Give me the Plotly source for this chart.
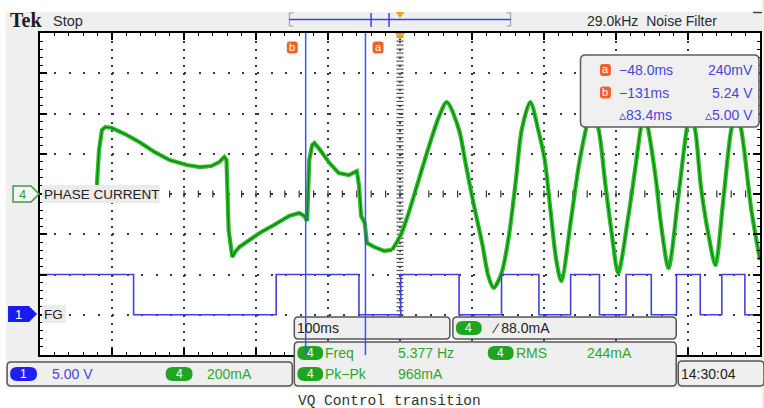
import plotly.graph_objects as go
import numpy as np

# ---------------- data ----------------
# CH4 phase current, first part (start-up / sensor-less part), time in ms, current in mA
seg1_t_ms = [-421, -418, -414, -409, -400, -382, -362, -341, -320, -296,
             -278, -262, -251, -244, -241, -238, -233, -229, -223, -209,
             -195, -175, -154, -140, -133, -129, -126, -122, -119, -112,
             -98, -85, -71, -60, -57, -54, -49, -46, -36, -22, -11]
seg1_ma = [45, 219, 318, 333, 328, 298, 258, 209, 169, 144,
           134, 139, 159, 184, 169, -179, -313, -288, -263, -229,
           -194, -154, -109, -94, -109, -134, 169, 243, 253, 224,
           154, 104, 94, 114, 45, -109, -144, -243, -263, -283, -278]
# CH4 phase current, sinusoidal part after the transition
osc_t_ms = [-11, 1, 12, 26, 40, 54, 65, 82, 91, 102,
            114, 123, 130, 141, 151, 161, 169, 181, 192, 201,
            209, 217, 224, 238, 248, 258, 266, 276, 285, 294,
            303, 317, 327, 334, 339, 345, 355, 363, 373, 386,
            398, 403, 410, 418, 428, 438, 449, 460, 467, 474, 488, 500]
osc_ma = [-278, -204, -94, 70, 234, 383, 457, 318, 154, -45,
          -243, -412, -467, -393, -214, 70, 318, 457, 318, 169,
          -80, -328, -432, -114, 134, 318, 427, 318, 55, -194,
          -393, -114, 134, 318, 417, 318, 84, -164, -368, -30,
          318, 407, 318, 35, -194, -353, -30, 318, 402, 318, -80, -328]
# CH1 FG signal (volts), step-after ("hv") points
fg_t_ms = [-500, -370, -172, -57, 1, 82, 141, 193, 237, 277, 314, 349, 384, 417, 447, 479, 500]
fg_v = [5, 0, 5, 0, 5, 0, 5, 0, 5, 0, 5, 0, 5, 0, 5, 0, 0]
# cursors (ms)
cursor_a_ms = -48.0
cursor_b_ms = -131.0
# readouts
cursor_rows = [("a", "\u221248.0ms", "240mV"), ("b", "\u2212131ms", "5.24 V"), ("", "\u25b583.4ms", "\u25b55.00 V")]

# ---------------- geometry helpers ----------------
W, H = 764, 408
L, R, T, B = 40, 762, 33, 355
UI = "Liberation Sans, Arial, sans-serif"
GREEN_T = "#2aa82a"
BLUE_T = "#4646dc"
ORANGE = "#f0602a"


def px(x):
    return (x - L) / (R - L)


def py(y):
    return (B - y) / (B - T)


def P(x, y):
    return f"{px(x):.5f},{py(y):.5f}"


shapes, anns = [], []
NONE = "rgba(0,0,0,0)"


def rect(x0, y0, x1, y1, fill, line=None, lw=0):
    shapes.append(dict(type="rect", xref="paper", yref="paper", x0=px(x0), x1=px(x1),
                       y0=py(y1), y1=py(y0), fillcolor=fill,
                       line=dict(color=line or NONE, width=lw), layer="above"))


def poly(pts, fill=None, line=None, lw=1.0, closed=True):
    d = "M" + " L".join(P(x, y) for x, y in pts) + (" Z" if closed else "")
    shapes.append(dict(type="path", xref="paper", yref="paper", path=d,
                       fillcolor=fill or NONE, line=dict(color=line or NONE, width=lw), layer="above"))


def rrect(x0, y0, x1, y1, r, fill, line=None, lw=1.5):
    d = (f"M{P(x0 + r, y0)} L{P(x1 - r, y0)} Q{P(x1, y0)} {P(x1, y0 + r)} L{P(x1, y1 - r)} "
         f"Q{P(x1, y1)} {P(x1 - r, y1)} L{P(x0 + r, y1)} Q{P(x0, y1)} {P(x0, y1 - r)} "
         f"L{P(x0, y0 + r)} Q{P(x0, y0)} {P(x0 + r, y0)} Z")
    shapes.append(dict(type="path", xref="paper", yref="paper", path=d, fillcolor=fill,
                       line=dict(color=line or NONE, width=lw if line else 0), layer="above"))


def seg(x0, y0, x1, y1, color, lw=1.5):
    shapes.append(dict(type="line", xref="paper", yref="paper", x0=px(x0), y0=py(y0),
                       x1=px(x1), y1=py(y1), line=dict(color=color, width=lw), layer="above"))


def txt(s, x, y, color, size=13.5, anchor="left", family=UI):
    anns.append(dict(text=s, x=px(x), y=py(y), xref="paper", yref="paper", xanchor=anchor,
                     yanchor="middle", showarrow=False, borderpad=0,
                     font=dict(family=family, size=size, color=color)))


def pill(x0, x1, yc, h, fill, label):
    rrect(x0, yc - h / 2, x1, yc + h / 2, h / 2, fill)
    txt(label, (x0 + x1) / 2, yc, "white", size=12, anchor="center")


def icon(xc, yc, letter):
    rrect(xc - 5.5, yc - 6, xc + 5.5, yc + 6, 3, ORANGE)
    txt(letter, xc, yc - 0.5, "white", size=11, anchor="center")


# ---------------- frame / background ----------------
rect(0, 0, W, 12, "white")
rect(0, 0, 6, H, "white")
rect(0, 388, W, H, "white")

# top bar
txt("<b>Tek</b>", 9, 20, "#1c1c1c", size=20, family="Liberation Serif, DejaVu Serif, serif")
txt("Stop", 52, 21, "#2a2a2a", size=14.5)
txt("29.0kHz  Noise Filter", 588, 21, "#2a2a2a", size=14)
seg(755, 12.5, 764, 12.5, "#444", 1.5)
# record view bar
poly([(294, 13), (290, 13), (290, 26), (294, 26)], line="#9a9a9a", lw=1, closed=False)
poly([(508, 13), (512, 13), (512, 26), (508, 26)], line="#9a9a9a", lw=1, closed=False)
seg(290, 19.5, 512, 19.5, "#3d3dff", 1.5)
seg(372, 13, 372, 27, "#3d3dff", 1.5)
seg(390, 13, 390, 27, "#3d3dff", 1.5)
poly([(396.5, 12), (405.5, 12), (401, 18)], fill="#eda22a")
# trigger position marker on graticule
poly([(396, 33), (406, 33), (401, 40)], fill="#eda22a")

# cursor labels on graticule
icon(293, 47.5, "b")
icon(379, 47.5, "a")

# channel markers left
poly([(13, 186), (31, 186), (39, 194), (31, 202), (13, 202)], fill="#f6f6f6", line="#3c9c3c", lw=1.5)
txt("4", 22, 194, "#3c9c3c", size=13, anchor="center")
rect(42, 185, 160, 203, "#ebebeb")
txt("PHASE CURRENT", 43, 194, "#222", size=13.5)
poly([(8, 306), (29, 306), (37, 314), (29, 322), (8, 322)], fill="#1a1aee")
txt("1", 18, 314, "white", size=13, anchor="center")
rect(42, 305, 66, 323, "#ebebeb")
txt("FG", 43, 314, "#222", size=13.5)

# cursor readout box
rrect(582, 55, 761, 127, 5, "#f0f0f0", "#5c5c5c", 1.5)
for i, (ic, tv, vv) in enumerate(cursor_rows):
    yy = 70 + i * 22.5
    if ic:
        icon(607, yy, ic)
    txt(tv, 620, yy, BLUE_T, size=14)
    txt(vv, 756, yy, BLUE_T, size=14, anchor="right")

# bottom boxes
BOXF, BOXL = "#efefef", "#555"
rrect(7, 362, 293, 386, 4, BOXF, BOXL)
pill(10, 37, 374, 14, "#1f1ff5", "1")
txt("5.00 V", 51, 374, BLUE_T, size=14)
pill(166, 193, 374, 14, "#1fa51f", "4")
txt("200mA", 206, 374, GREEN_T, size=14)

rrect(295, 317, 451, 339, 4, BOXF, BOXL)
txt("100ms", 297, 328, "#222", size=14)
rrect(454, 317, 678, 339, 4, BOXF, BOXL)
pill(457, 483, 328, 14, "#1fa51f", "4")
txt("\u2215 88.0mA", 492, 328, "#222", size=14)

rrect(295, 342, 678, 386, 4, BOXF, BOXL)
pill(298, 324, 353, 14, "#1fa51f", "4")
txt("Freq", 325, 353, GREEN_T, size=14)
txt("5.377 Hz", 398, 353, GREEN_T, size=14)
pill(489, 515, 353, 14, "#1fa51f", "4")
txt("RMS", 516, 353, GREEN_T, size=14)
txt("244mA", 588, 353, GREEN_T, size=14)
pill(298, 324, 374, 14, "#1fa51f", "4")
txt("Pk\u2212Pk", 325, 374, GREEN_T, size=14)
txt("968mA", 398, 374, GREEN_T, size=14)

rrect(680, 361, 766, 386, 4, BOXF, BOXL)
txt("14:30:04", 682, 374, "#222", size=14)

# caption
txt("VQ Control transition", 390, 401, "#333", size=14.5, anchor="center",
    family="Liberation Mono, DejaVu Sans Mono, monospace")

# cursor lines (data coordinates on x)
for cx in (cursor_b_ms, cursor_a_ms):
    shapes.append(dict(type="line", xref="x", yref="paper", x0=cx, x1=cx, y0=0, y1=1,
                       line=dict(color="#4b4bff", width=1.5), layer="above"))

# ---------------- figure ----------------
fig = go.Figure()
# centre graticule tick marks
fig.add_trace(go.Scatter(x=np.arange(-480, 481, 20), y=np.zeros(49), mode="markers",
                         marker=dict(symbol="line-ns", size=5, line=dict(color="#333", width=1.2)),
                         hoverinfo="skip"))
fig.add_trace(go.Scatter(x=np.zeros(79), y=np.arange(-780, 781, 20), mode="markers",
                         marker=dict(symbol="line-ew", size=5, line=dict(color="#555", width=1.2)),
                         hoverinfo="skip"))
# FG channel
fig.add_trace(go.Scatter(x=fg_t_ms, y=fg_v, yaxis="y2", mode="lines", line_shape="hv",
                         line=dict(color="#4141e0", width=1.6), hoverinfo="skip"))
# phase current
for tt, yy, shape in ((seg1_t_ms, seg1_ma, "linear"), (osc_t_ms, osc_ma, "spline")):
    fig.add_trace(go.Scatter(x=tt, y=yy, mode="lines", line=dict(color="#27c027", width=4.2, shape=shape,
                                                                  smoothing=0.8), hoverinfo="skip"))
    fig.add_trace(go.Scatter(x=tt, y=yy, mode="lines", line=dict(color="#1d6e1d", width=1.1, shape=shape,
                                                                  smoothing=0.8), hoverinfo="skip"))

axis_common = dict(showline=True, linecolor="black", linewidth=2, mirror="ticks", ticks="inside",
                   tickcolor="black", tickwidth=1.5, ticklen=7, showticklabels=False,
                   zeroline=False, showgrid=True, gridcolor="#3a3a3a", gridwidth=1.5)
fig.update_layout(
    width=W, height=H, margin=dict(l=L, r=W - R, t=T, b=H - B, pad=0),
    paper_bgcolor="#efefef", plot_bgcolor="white", showlegend=False, hovermode=False,
    xaxis=dict(range=[-500, 500], tick0=0, dtick=100, griddash="2px,6.05px",
               minor=dict(dtick=20, ticks="inside", ticklen=3, tickcolor="black", tickwidth=1.2, showgrid=False),
               **axis_common),
    yaxis=dict(range=[-800, 800], tick0=0, dtick=200, griddash="2px,12.44px",
               minor=dict(dtick=40, ticks="inside", ticklen=3, tickcolor="black", tickwidth=1.2, showgrid=False),
               **axis_common),
    yaxis2=dict(range=[-5, 35], overlaying="y", visible=False, showgrid=False),
    shapes=shapes, annotations=anns,
)
fig.write_html("out.html", config={"displayModeBar": False})
